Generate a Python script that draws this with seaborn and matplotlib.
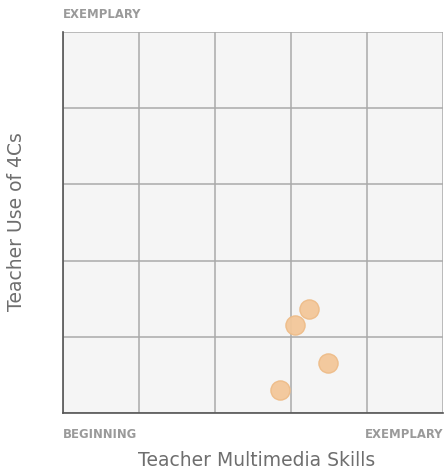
import matplotlib
matplotlib.use("Agg")
import matplotlib.pyplot as plt
import seaborn as sns
import pandas as pd

multimedia_skills = [3.24, 3.05, 3.49, 2.85]
use_of_4cs = [1.36, 1.15, 0.66, 0.30]
x_tick_labels = ["BEGINNING", "EXEMPLARY"]
y_top_label = "EXEMPLARY"

df = pd.DataFrame({"skills": multimedia_skills, "use": use_of_4cs})

sns.set_theme(style="white")
plt.rcParams["font.family"] = ["DejaVu Sans"]

fig = plt.figure(figsize=(4.44, 4.72), dpi=100)
ax = fig.add_axes([63 / 444, 59 / 472, 380 / 444, 381 / 472])
ax.set_facecolor("#F5F5F5")

sns.scatterplot(data=df, x="skills", y="use", ax=ax, s=190,
                color="#F3C79A", edgecolor="#EEBC88", linewidth=1, alpha=0.95, zorder=3)

ax.set_xlim(0, 5)
ax.set_ylim(0, 5)
ax.set_xticks([0, 1, 2, 3, 4, 5])
ax.set_yticks([0, 1, 2, 3, 4, 5])
ax.grid(True, color="#AAAAAA", linewidth=1.1)
ax.tick_params(length=0, labelbottom=False, labelleft=False)
for side in ["top", "right"]:
    ax.spines[side].set_visible(False)
for side in ["left", "bottom"]:
    ax.spines[side].set_color("#555555")
    ax.spines[side].set_linewidth(1.2)

ax.set_xlabel("")
ax.set_ylabel("")

gray = "#9A9A9A"
fig.text(63 / 444, 1 - 14 / 472, y_top_label, ha="left", va="center",
         fontsize=8.4, fontweight="bold", color=gray)
fig.text(63 / 444, 1 - 435 / 472, x_tick_labels[0], ha="left", va="center",
         fontsize=8.4, fontweight="bold", color=gray)
fig.text(443 / 444, 1 - 435 / 472, x_tick_labels[1], ha="right", va="center",
         fontsize=8.4, fontweight="bold", color=gray)
fig.text(257 / 444, 1 - 460 / 472, "Teacher Multimedia Skills", ha="center", va="center",
         fontsize=13.5, color="#6E6E6E")
fig.text(17 / 444, 1 - 222 / 472, "Teacher Use of 4Cs", ha="center", va="center",
         rotation=90, fontsize=13.5, color="#6E6E6E")

fig.savefig("out.png", dpi=100)
